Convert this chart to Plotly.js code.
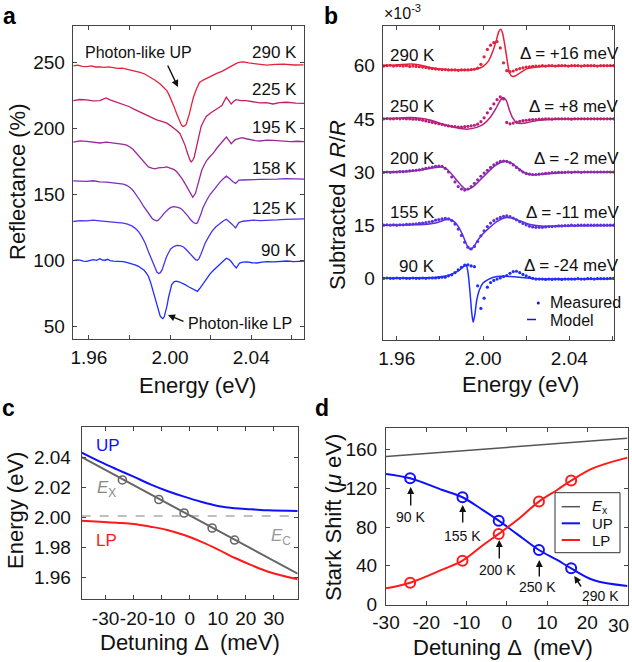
<!DOCTYPE html>
<html><head><meta charset="utf-8">
<script src="https://cdn.plot.ly/plotly-3.0.1.min.js"></script>
<style>html,body{margin:0;padding:0;background:#fff}#g{width:632px;height:662px}</style>
</head><body><div id="g"></div>
<script>
// ---------- Panel a: reflectance spectra (Energy eV, Reflectance %) ----------
const aE290=[1.9523,1.9545,1.9567,1.9589,1.9611,1.9633,1.9654,1.9676,1.9698,1.9720,1.9742,1.9764,1.9786,1.9808,1.9830,1.9852,1.9875,1.9901,1.9926,1.9951,1.9968,1.9984,1.9996,2.0008,2.0020,2.0033,2.0041,2.0049,2.0056,2.0063,2.0071,2.0079,2.0087,2.0095,2.0105,2.0115,2.0130,2.0145,2.0163,2.0181,2.0205,2.0230,2.0255,2.0280,2.0305,2.0329,2.0345,2.0362,2.0387,2.0412,2.0445,2.0477,2.0518,2.0560,2.0610,2.0658];
const aR290=[247.4,247.9,247.0,246.8,247.3,246.5,246.6,246.2,246.6,245.8,245.5,245.7,244.9,244.2,243.6,242.4,241.2,239.1,236.5,233.6,231.2,228.6,225.0,221.1,216.3,211.0,207.8,204.8,202.6,201.5,201.9,203.0,206.5,211.0,217.5,223.6,229.8,234.8,236.6,238.1,240.0,241.6,243.2,245.4,247.6,249.4,250.2,250.4,249.6,249.1,248.7,247.9,248.4,248.6,248.0,248.1];
const aE225=[1.9523,1.9556,1.9589,1.9621,1.9654,1.9684,1.9704,1.9737,1.9770,1.9800,1.9819,1.9852,1.9885,1.9910,1.9934,1.9959,1.9984,2.0000,2.0016,2.0033,2.0049,2.0062,2.0074,2.0083,2.0091,2.0098,2.0104,2.0112,2.0119,2.0126,2.0132,2.0143,2.0153,2.0166,2.0178,2.0203,2.0227,2.0241,2.0255,2.0266,2.0277,2.0290,2.0301,2.0314,2.0326,2.0350,2.0375,2.0408,2.0441,2.0474,2.0507,2.0540,2.0573,2.0620,2.0663];
const aR225=[221.1,221.9,221.6,220.8,221.1,223.1,221.6,219.8,218.3,216.4,214.8,212.5,209.8,207.9,206.5,205.3,204.0,202.3,200.5,198.4,196.0,192.0,187.2,182.5,178.4,176.0,174.7,176.0,178.4,183.5,188.5,195.5,201.5,205.6,209.0,212.0,214.0,215.8,217.3,220.0,223.6,221.1,218.5,220.5,221.8,221.0,221.1,220.2,219.3,219.6,218.5,219.5,219.8,219.2,219.0];
const aE195=[1.9523,1.9556,1.9589,1.9621,1.9654,1.9687,1.9720,1.9745,1.9770,1.9786,1.9802,1.9818,1.9835,1.9852,1.9868,1.9880,1.9893,1.9910,1.9926,1.9942,1.9959,1.9971,1.9984,1.9996,2.0008,2.0020,2.0033,2.0045,2.0058,2.0070,2.0082,2.0092,2.0102,2.0112,2.0125,2.0140,2.0156,2.0168,2.0181,2.0197,2.0214,2.0230,2.0247,2.0262,2.0277,2.0290,2.0301,2.0321,2.0338,2.0354,2.0375,2.0395,2.0420,2.0444,2.0477,2.0510,2.0550,2.0593,2.0630,2.0663];
const aR195=[189.7,190.6,190.2,189.5,189.0,189.6,189.0,188.7,188.0,187.3,186.0,184.0,181.0,177.8,174.7,172.6,170.9,170.0,169.4,170.2,170.2,170.5,170.9,170.3,169.7,168.8,167.2,165.0,162.2,159.2,155.9,152.8,149.6,147.9,150.9,159.6,168.4,172.3,175.9,178.8,181.5,185.0,188.0,191.0,193.5,191.0,188.5,191.5,192.0,193.0,192.2,191.5,190.8,190.5,191.2,191.0,190.4,190.0,190.3,190.0];
const aE158=[1.9523,1.9556,1.9589,1.9621,1.9654,1.9687,1.9720,1.9745,1.9770,1.9786,1.9802,1.9818,1.9835,1.9852,1.9868,1.9885,1.9901,1.9911,1.9921,1.9928,1.9934,1.9942,1.9951,1.9960,1.9970,1.9981,1.9992,2.0004,2.0016,2.0033,2.0049,2.0061,2.0074,2.0087,2.0099,2.0107,2.0115,2.0122,2.0128,2.0135,2.0143,2.0152,2.0161,2.0171,2.0181,2.0197,2.0214,2.0230,2.0247,2.0262,2.0277,2.0287,2.0296,2.0310,2.0323,2.0331,2.0339,2.0359,2.0379,2.0411,2.0444,2.0486,2.0527,2.0568,2.0609,2.0663];
const aR158=[160.4,160.0,159.9,160.4,159.6,159.4,158.9,158.6,157.9,157.0,155.4,152.9,149.6,145.5,141.4,137.5,133.8,132.1,130.8,130.3,130.1,130.6,131.8,133.6,135.8,137.6,139.1,140.3,140.9,140.5,139.8,138.4,136.3,133.8,131.3,129.8,128.8,128.3,128.1,128.7,131.3,135.2,139.6,142.9,145.9,150.0,153.4,156.8,159.6,162.0,163.9,162.9,161.4,159.6,158.4,159.5,160.9,161.0,160.9,161.2,161.4,161.8,161.7,162.0,161.9,161.7];
const aE125=[1.9523,1.9556,1.9589,1.9621,1.9654,1.9687,1.9720,1.9745,1.9770,1.9790,1.9811,1.9827,1.9844,1.9860,1.9877,1.9891,1.9905,1.9916,1.9926,1.9935,1.9944,1.9952,1.9961,1.9970,1.9980,1.9991,2.0003,2.0018,2.0033,2.0050,2.0066,2.0078,2.0091,2.0103,2.0115,2.0125,2.0135,2.0143,2.0151,2.0162,2.0173,2.0190,2.0206,2.0226,2.0247,2.0262,2.0277,2.0289,2.0300,2.0312,2.0323,2.0331,2.0339,2.0359,2.0379,2.0411,2.0444,2.0486,2.0527,2.0568,2.0609,2.0663];
const aR125=[129.6,130.3,130.1,130.6,130.1,129.6,129.1,128.9,128.3,127.6,126.3,124.6,122.1,118.3,113.3,107.6,102.0,97.6,93.7,91.3,90.2,90.9,93.2,97.5,102.0,105.6,108.8,110.6,111.5,111.3,110.3,108.6,106.3,104.0,101.8,100.8,100.3,101.7,104.5,108.8,113.3,118.0,122.1,125.6,128.3,130.0,131.3,130.0,128.3,126.5,124.8,126.8,128.8,129.8,130.1,130.6,130.3,130.8,130.8,131.2,131.3,131.6];
const aE90=[1.9523,1.9540,1.9556,1.9572,1.9589,1.9605,1.9621,1.9638,1.9654,1.9667,1.9679,1.9692,1.9704,1.9720,1.9737,1.9754,1.9770,1.9790,1.9811,1.9827,1.9844,1.9858,1.9872,1.9883,1.9893,1.9904,1.9914,1.9924,1.9934,1.9943,1.9951,1.9958,1.9964,1.9971,1.9977,1.9985,1.9992,2.0000,2.0008,2.0019,2.0030,2.0044,2.0058,2.0074,2.0091,2.0103,2.0115,2.0125,2.0135,2.0146,2.0156,2.0168,2.0181,2.0197,2.0214,2.0230,2.0247,2.0262,2.0277,2.0289,2.0300,2.0313,2.0326,2.0334,2.0342,2.0360,2.0379,2.0404,2.0428,2.0453,2.0477,2.0510,2.0543,2.0576,2.0609,2.0636,2.0663];
const aR90=[100.0,100.6,100.3,99.6,99.5,100.4,100.8,100.2,101.5,100.4,100.3,101.0,100.0,99.6,99.5,99.8,99.2,98.5,97.7,96.8,95.7,94.4,92.7,90.6,88.2,83.5,78.2,72.0,65.7,61.0,58.1,56.8,56.1,57.5,60.6,66.0,71.9,77.5,81.9,84.0,84.5,84.0,83.2,81.8,80.2,79.1,78.2,77.3,76.7,78.9,81.2,84.2,87.0,90.0,92.7,95.0,97.0,99.4,101.8,101.0,99.5,96.8,94.5,96.2,98.2,98.8,99.0,98.4,98.2,98.9,99.2,99.0,99.5,99.7,99.2,99.5,99.7];
const aLabels=['290 K','225 K','195 K','158 K','125 K','90 K'];

// ---------- Panel b: subtracted dR/R (x1e-3) ----------
const bEmeas=[1.9540,1.9555,1.9570,1.9585,1.9600,1.9615,1.9630,1.9645,1.9660,1.9675,1.9690,1.9705,1.9720,1.9735,1.9750,1.9765,1.9780,1.9795,1.9810,1.9825,1.9840,1.9855,1.9870,1.9885,1.9900,1.9915,1.9930,1.9945,1.9960,1.9975,1.9990,2.0005,2.0020,2.0035,2.0050,2.0065,2.0080,2.0095,2.0110,2.0125,2.0140,2.0155,2.0170,2.0185,2.0200,2.0215,2.0230,2.0245,2.0260,2.0275,2.0290,2.0305,2.0320,2.0335,2.0350,2.0365,2.0380,2.0395,2.0410,2.0425,2.0440,2.0455,2.0470,2.0485,2.0500,2.0515,2.0530,2.0545,2.0560,2.0575,2.0590,2.0605];
const bM290=[59.9,60.0,60.1,59.9,60.0,60.0,59.9,60.0,59.8,59.9,59.8,59.7, 59.6,59.5,59.3,59.2,59.1,59.0,58.9,58.9,58.8,58.8,58.8,58.7,58.8,58.8,58.8,58.9,59.0, 59.3,60.4,62.5,64.6,65.8,66.5,66.8,65.0,60.8,58.6,58.3,58.5,58.9,59.2,59.4,59.6,59.7,59.8, 59.9,59.9,60.0,59.9,60.0,60.0,59.9,60.0,60.0,60.0,59.9,60.0,60.0,60.0,59.9,60.0,60.0,60.0,60.0,59.9,60.0,60.0,60.0,60.0,60.0];
const bM250=[45.0,45.1,45.0,45.0,45.1,45.0,45.1,45.0,45.0,44.9,44.9,44.8, 44.6,44.4,44.2,44.0,43.8,43.6,43.4,43.2,43.0,42.9,42.8,42.7,42.7,42.8,42.9,43.0,43.2, 43.5,44.2,45.3,46.7,47.9,49.2,50.4,51.2,50.6,44.0,43.6,43.8,44.1,44.3,44.5,44.6,44.7,44.8, 44.8,44.9,44.9,45.0,45.0,44.9,45.0,45.0,45.0,45.0,45.0,44.9,45.0,45.0,45.0,45.0,45.0,45.0,45.0,45.0,45.0,45.0,45.0,45.0,45.0];
const bM200=[29.9,30.0,29.9,30.0,30.0,30.1,30.1,30.2,30.3,30.4,30.5,30.6, 30.8,31.0,31.2,31.4,31.6,31.7,31.6,31.0,30.0,28.6,27.2,25.9,25.2,24.9,25.2,25.9,26.8, 27.8,28.8,29.7,30.5,31.3,32.0,32.6,33.0,33.1,33.0,32.6,32.0,31.3,30.6,30.0,29.6,29.4,29.3, 29.3,29.4,29.5,29.6,29.7,29.8,29.8,29.9,29.9,29.9,30.0,29.9,30.0,30.0,29.9,30.0,30.0,30.0,30.0,30.0,30.0,30.0,30.0,30.0,30.0];
const bM155=[15.0,15.1,15.0,15.1,15.0,15.1,15.1,15.2,15.2,15.3,15.4,15.5,15.6,15.7,15.9, 16.1,16.4,16.6,16.8,16.9,16.8,16.3,15.3,13.9,12.1,10.2,8.8,8.3,9.0, 10.4,12.0,13.4,14.6,15.6,16.3,16.8,17.2,17.5,17.6,17.4,17.0,16.5,16.0,15.5,15.1,14.7,14.5, 14.4,14.4,14.4,14.5,14.6,14.6,14.7,14.8,14.8,14.9,14.9,15.0,14.9,15.0,15.0,15.0,15.0,15.0,15.0,15.0,15.0,15.0,15.0,15.0,15.0];
const bM90=[0.0,0.1,0.0,0.0,0.1,0.0,0.1,0.0,0.0,0.1,0.0,0.0,0.1,0.0,0.1,0.1,0.1,0.2,0.3, 0.3,0.7,1.0,1.6,2.4,3.1,3.7,3.8,3.5,3.3, -2.1,-8.5,-5.6,-2.5,-1.2,-0.6,-0.2,0.1,0.5,0.8,1.4,1.9,2.0,1.6,1.1,0.7,0.3,0.0, -0.2,-0.2,-0.2,-0.3,-0.2,-0.3,-0.2,-0.2,-0.3,-0.2,-0.2,-0.2,-0.2,-0.1,-0.2,-0.2,-0.1,-0.1,-0.2,-0.1,-0.1,-0.1,-0.1,0.0,0.0];
const bE290=[1.9530,1.9600,1.9662,1.9708,1.9754,1.9816,1.9878,1.9940,1.9979,2.0002,2.0025,2.0045,2.0061,2.0073,2.0082,2.0091,2.0102,2.0113,2.0122,2.0135,2.0149,2.0172,2.0203,2.0249,2.0311,2.0404,2.0608];
const bF290=[60.1,60.2,60.5,60.2,59.5,59.0,58.8,58.8,59.2,59.9,61.3,64.0,67.0,69.6,70.3,69.1,65.4,61.1,58.0,57.0,57.1,58.0,59.1,59.6,59.9,60.0,60.0];
const bE250=[1.9530,1.9600,1.9662,1.9708,1.9754,1.9816,1.9878,1.9925,1.9971,2.0002,2.0033,2.0056,2.0076,2.0092,2.0107,2.0122,2.0138,2.0156,2.0175,2.0203,2.0249,2.0311,2.0404,2.0608];
const bF250=[45.0,45.2,45.4,45.2,44.7,43.5,42.5,42.1,42.6,43.5,45.4,47.5,49.8,51.0,50.3,47.5,45.2,43.9,43.7,43.9,44.5,44.8,45.0,45.0];
const bE200=[1.9530,1.9600,1.9662,1.9724,1.9770,1.9809,1.9832,1.9855,1.9878,1.9901,1.9921,1.9940,1.9963,1.9994,2.0025,2.0056,2.0082,2.0107,2.0133,2.0164,2.0195,2.0231,2.0280,2.0342,2.0435,2.0608];
const bF200=[30.0,30.1,30.25,30.7,31.2,31.4,30.8,29.4,27.7,26.1,25.1,25.3,26.3,28.2,30.1,31.8,32.7,33.0,32.5,31.0,29.7,29.2,29.4,29.7,29.9,29.9];
const bE155=[1.9530,1.9600,1.9662,1.9724,1.9785,1.9824,1.9847,1.9866,1.9886,1.9906,1.9925,1.9940,1.9956,1.9974,1.9999,2.0030,2.0064,2.0102,2.0133,2.0172,2.0218,2.0280,2.0373,2.0608];
const bF155=[14.95,15.0,15.1,15.2,15.7,16.5,16.6,16.0,14.6,12.2,9.4,8.2,8.8,10.6,12.5,14.3,16.0,17.1,17.0,16.2,15.2,14.7,14.8,14.9];
const bE90=[1.9530,1.9662,1.9785,1.9832,1.9863,1.9891,1.9909,1.9922,1.9931,1.9940,1.9948,1.9954,1.9962,1.9971,1.9983,1.9999,2.0025,2.0064,2.0126,2.0203,2.0280,2.0373,2.0608];
const bF90=[0.0,0.07,0.3,0.7,1.4,2.3,3.3,3.7,1.4,-4.2,-9.9,-12.4,-10.3,-6.1,-3.3,-1.4,-0.3,0.5,0.5,0.1,-0.2,-0.2,-0.1];
const bTemps=['290 K','250 K','200 K','155 K','90 K'];
const bDeltas=['Δ = +16 meV','Δ = +8 meV','Δ = -2 meV','Δ = -11 meV','Δ = -24 meV'];

// ---------- Panel c: energies vs detuning ----------
const cDet=[-38.5,-32,-26,-20,-14,-8,-2,4,10,16,22,28,38.5];
const cUP=[2.0432,2.0372,2.0321,2.0272,2.0221,2.0177,2.0139,2.0105,2.0077,2.0061,2.0055,2.0048,2.0043];
const cLP=[1.9979,1.9972,1.9965,1.9957,1.9939,1.9917,1.9883,1.9839,1.9788,1.9732,1.9683,1.9639,1.9588];
const cExDet=[-38.5,38.5];
const cEx=[2.0402,1.9626];
const cEc=[2.001,2.001];
const mDet=[-24,-11,-2,8,16];
const cExM=[2.025,2.012,2.003,1.993,1.985];

// ---------- Panel d: Stark shift vs detuning ----------
const dDet=[-30,-24,-16,-11,-6,-2,2.5,8,12.5,16,21.5,30];
const dUP=[134.9,130.4,118.3,110.8,97.7,86.6,73.0,56.3,46.0,37.4,25.3,19.1];
const dLP=[16.7,22.5,36.0,45.3,61.0,72.9,87.0,106.3,118.3,128.0,140.8,151.7];
const dExDet=[-30,-15,0,15,30];
const dEx=[152.8,157.5,162.3,167.0,171.8];
const dUPm=[130.4,110.8,86.6,56.3,37.4];
const dLPm=[22.5,45.3,72.9,106.3,128.0];
const dArrowLabels=['90 K','155 K','200 K','250 K','290 K'];

// ---------- styles ----------
const W=632,H=662;
const FONT='Liberation Sans, Arial, Helvetica, sans-serif';
const px=x=>x/W, py=y=>1-y/H;
const aCol=['#e5203c','#c21f68','#9a2a98','#7b2ec4','#4a34ee','#1f2eff'];
const bCol=['#e5203c','#b61f7a','#8a2aae','#5a30e2','#1f2eff'];
const BLUE='#1010ff', RED='#ff1a1a';

const traces=[];
const aE=[aE290,aE225,aE195,aE158,aE125,aE90], aR=[aR290,aR225,aR195,aR158,aR125,aR90];
aE.forEach((e,i)=>traces.push({x:e,y:aR[i],mode:'lines',line:{color:aCol[i],width:1.3},xaxis:'x',yaxis:'y',hoverinfo:'skip'}));
const bE=[bE290,bE250,bE200,bE155,bE90], bF=[bF290,bF250,bF200,bF155,bF90], bM=[bM290,bM250,bM200,bM155,bM90];
bE.forEach((e,i)=>{
  traces.push({x:e,y:bF[i],mode:'lines',line:{color:bCol[i],width:1.5,shape:'spline',smoothing:0.6},xaxis:'x2',yaxis:'y2'});
  traces.push({x:bEmeas,y:bM[i],mode:'markers',marker:{color:bCol[i],size:3.2},xaxis:'x2',yaxis:'y2'});
});
traces.push({x:cExDet,y:cEc,mode:'lines',line:{color:'#aaaaaa',width:1.5,dash:'dash'},xaxis:'x3',yaxis:'y3'});
traces.push({x:cExDet,y:cEx,mode:'lines',line:{color:'#666666',width:2},xaxis:'x3',yaxis:'y3'});
traces.push({x:mDet,y:cExM,mode:'markers',marker:{symbol:'circle-open',size:8,color:'#666666',line:{width:1.6}},xaxis:'x3',yaxis:'y3'});
traces.push({x:cDet,y:cUP,mode:'lines',line:{color:BLUE,width:2,shape:'spline'},xaxis:'x3',yaxis:'y3'});
traces.push({x:cDet,y:cLP,mode:'lines',line:{color:RED,width:2,shape:'spline'},xaxis:'x3',yaxis:'y3'});
traces.push({x:dExDet,y:dEx,mode:'lines',line:{color:'#555555',width:1.5},xaxis:'x4',yaxis:'y4'});
traces.push({x:dDet,y:dUP,mode:'lines',line:{color:BLUE,width:2,shape:'spline'},xaxis:'x4',yaxis:'y4'});
traces.push({x:dDet,y:dLP,mode:'lines',line:{color:RED,width:2,shape:'spline'},xaxis:'x4',yaxis:'y4'});
traces.push({x:mDet,y:dUPm,mode:'markers',marker:{symbol:'circle-open',size:10,color:BLUE,line:{width:2}},xaxis:'x4',yaxis:'y4'});
traces.push({x:mDet,y:dLPm,mode:'markers',marker:{symbol:'circle-open',size:10,color:RED,line:{width:2}},xaxis:'x4',yaxis:'y4'});

function axis(dom,range,tv,tt,anchor,extra){
  return Object.assign({domain:dom,range:range,tickvals:tv,ticktext:tt,anchor:anchor,tickangle:0,
    showline:true,mirror:'ticks',linecolor:'#444',linewidth:1,ticks:'inside',ticklen:4,tickcolor:'#444',
    showgrid:false,zeroline:false,tickfont:{family:FONT,size:19,color:'#111'},fixedrange:true},extra||{});
}
const eTicks=[1.96,1.98,2.00,2.02,2.04,2.06], eText=['1.96','','2.00','','2.04',''];
const dTicks=[-30,-20,-10,0,10,20,30];

const ann=[];
function T(text,x,y,o){ann.push(Object.assign({text:text,xref:'paper',yref:'paper',x:px(x),y:py(y),showarrow:false,xanchor:'center',yanchor:'middle',font:{family:FONT,size:17,color:'#111'}},o||{}));}
function A(hx,hy,tx,ty){ann.push({text:'',xref:'paper',yref:'paper',x:px(hx),y:py(hy),ax:tx-hx,ay:ty-hy,showarrow:true,arrowhead:2,arrowsize:1,arrowwidth:1.4,arrowcolor:'#111',standoff:0,startstandoff:0});}
// panel letters
T('<b>a</b>',9,16,{font:{family:FONT,size:23,color:'#000'}});
T('<b>b</b>',331,16,{font:{family:FONT,size:23,color:'#000'}});
T('<b>c</b>',8,408,{font:{family:FONT,size:23,color:'#000'}});
T('<b>d</b>',322,408,{font:{family:FONT,size:23,color:'#000'}});
// axis titles
T('Reflectance (%)',17,182,{textangle:-90,font:{family:FONT,size:22,color:'#111'}});
T('Energy (eV)',197,385,{font:{family:FONT,size:22,color:'#111'}});
T('Subtracted Δ <i>R</i>/<i>R</i>',338,205,{textangle:-90,font:{family:FONT,size:22,color:'#111'}});
T('Energy (eV)',520,384,{font:{family:FONT,size:22,color:'#111'}});
T('×10<sup>-3</sup>',382,12,{xanchor:'left',font:{family:FONT,size:16,color:'#111'}});
T('Energy (eV)',16,511,{textangle:-90,font:{family:FONT,size:22,color:'#111'}});
T('Detuning Δ  (meV)',190,642,{font:{family:FONT,size:22,color:'#111'}});
T('Stark Shift (<i>μ</i> eV)',333,518,{textangle:-90,font:{family:FONT,size:22,color:'#111'}});
T('Detuning Δ  (meV)',503,647,{font:{family:FONT,size:22,color:'#111'}});
// right-edge tick label of panel d (drawn inside the page like the reference)
T('30',618,625,{font:{family:FONT,size:19,color:'#111'}});
// panel a labels
const aLy=[52,90,128,169,208.5,250];
aLabels.forEach((s,i)=>T(s,299,aLy[i],{xanchor:'right'}));
T('Photon-like UP',138,52,{font:{family:FONT,size:16,color:'#111'}});
A(178,87,167,64);
T('Photon-like LP',240,324,{font:{family:FONT,size:16,color:'#111'}});
A(168,315,185,322);
// panel b labels
const bLy=[55,107,158,212,267];
bTemps.forEach((s,i)=>T(s,437,bLy[i],{xanchor:'right'}));
const bDy=[53,107,158,212,265];
bDeltas.forEach((s,i)=>T(s,621,bDy[i],{xanchor:'right'}));
T('Measured',548,302,{xanchor:'left',font:{family:FONT,size:16,color:'#111'}});
T('Model',548,320,{xanchor:'left',font:{family:FONT,size:16,color:'#111'}});
// panel c labels
T('UP',108,445,{font:{family:FONT,size:17,color:BLUE}});
T('LP',107,540,{font:{family:FONT,size:17,color:RED}});
T('<i>E</i><sub>X</sub>',106,489,{font:{family:FONT,size:17,color:'#888'}});
T('<i>E</i><sub>C</sub>',281,537,{font:{family:FONT,size:17,color:'#999'}});
// panel d labels and arrows
const dLx=[410,462,497,537,600], dLyy=[517,536,570,587,596];
dArrowLabels.forEach((s,i)=>T(s,dLx[i],dLyy[i],{font:{family:FONT,size:14,color:'#111'}}));
A(410.7,487,410.7,507); A(462.7,505,462.7,524); A(499.3,540,499.3,560); A(539.3,560,539.3,578); A(574.3,576,582,588);
T('<i>E</i><sub>x</sub>',590,506.7,{xanchor:'left',font:{family:FONT,size:15,color:'#111'}});
T('UP',590,523.3,{xanchor:'left',font:{family:FONT,size:15,color:'#111'}});
T('LP',590,540,{xanchor:'left',font:{family:FONT,size:15,color:'#111'}});

const shapes=[
 {type:'circle',xref:'paper',yref:'paper',x0:px(536.8),x1:px(539.8),y0:py(304.5),y1:py(301.5),fillcolor:BLUE,line:{width:0}},
 {type:'line',xref:'paper',yref:'paper',x0:px(527),x1:px(536),y0:py(319.5),y1:py(319.5),line:{color:BLUE,width:1.5}},
 {type:'rect',xref:'paper',yref:'paper',x0:px(555),x1:px(620),y0:py(552.7),y1:py(492.7),line:{color:'#333',width:1},fillcolor:'#fff'},
 {type:'line',xref:'paper',yref:'paper',x0:px(561.7),x1:px(580),y0:py(506.7),y1:py(506.7),line:{color:'#555',width:1.5}},
 {type:'line',xref:'paper',yref:'paper',x0:px(561.7),x1:px(580),y0:py(523.3),y1:py(523.3),line:{color:BLUE,width:2}},
 {type:'line',xref:'paper',yref:'paper',x0:px(561.7),x1:px(580),y0:py(540),y1:py(540),line:{color:RED,width:2}}
];

const layout={width:W,height:H,margin:{l:0,r:0,t:0,b:0},paper_bgcolor:'#fff',plot_bgcolor:'#fff',showlegend:false,
 font:{family:FONT,color:'#111'},
 xaxis:axis([px(72.7),px(304)],[1.952,2.066],eTicks,eText,'y',{ticklabelstandoff:1}),
 yaxis:axis([py(339),py(26)],[40.7,277.5],[50,100,150,200,250],['50','100','150','200','250'],'x',{ticklabelstandoff:3}),
 xaxis2:axis([px(382.7),px(614)],[1.9535,2.0607],eTicks,eText,'y2',{ticklabelstandoff:1}),
 yaxis2:axis([py(340),py(26)],[-17.4,71.2],[0,15,30,45,60],['0','15','30','45','60'],'x2',{ticklabelstandoff:3}),
 xaxis3:axis([px(81.7),px(297.7)],[-38.5,38.5],dTicks,dTicks.map(String),'y3',{ticklabelstandoff:2}),
 yaxis3:axis([py(599.3),py(427.3)],[1.9455,2.0601],[1.96,1.98,2.00,2.02,2.04],['1.96','1.98','2.00','2.02','2.04'],'x3',{ticklabelstandoff:6}),
 xaxis4:axis([px(386),px(627.5)],[-30,30],dTicks,['-30','-20','-10','0','10','20',''],'y4',{ticklabelstandoff:0}),
 yaxis4:axis([py(605),py(428.3)],[-0.5,182],[0,40,80,120,160],['0','40','80','120','160'],'x4',{ticklabelstandoff:4}),
 annotations:ann,shapes:shapes};
Plotly.newPlot('g',traces,layout,{staticPlot:true,displayModeBar:false});
</script></body></html>
